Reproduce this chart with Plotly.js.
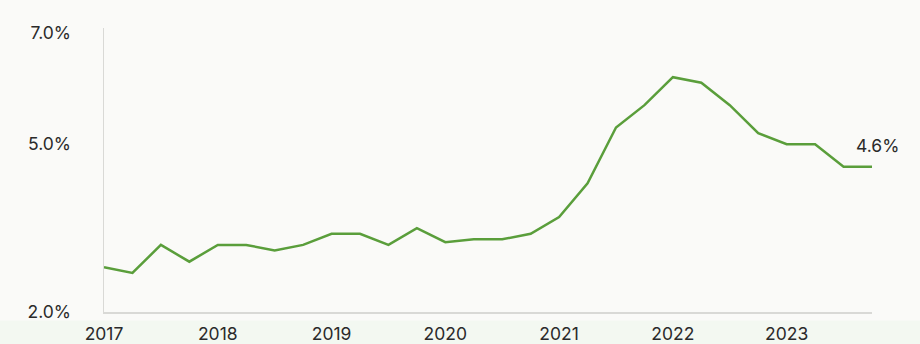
<!DOCTYPE html>
<html>
<head>
<meta charset="utf-8">
<script src="https://cdn.plot.ly/plotly-3.0.1.min.js"></script>
<style>
  html, body { margin: 0; padding: 0; background: #fafaf8; }
  #chart { width: 920px; height: 344px; }
</style>
</head>
<body>
<div id="chart"></div>
<script>
// Quarterly categories 2017 Q1 .. 2023 Q4
const years = ["2017", "2018", "2019", "2020", "2021", "2022", "2023"];
const quarters = ["Q1", "Q2", "Q3", "Q4"];
const categories = [];
years.forEach(y => quarters.forEach(q => categories.push(y + " " + q)));

// Rate values (%)
const values = [
  2.8, 2.7, 3.2, 2.9,
  3.2, 3.2, 3.1, 3.2,
  3.4, 3.4, 3.2, 3.5,
  3.25, 3.3, 3.3, 3.4,
  3.7, 4.3, 5.3, 5.7,
  6.2, 6.1, 5.7, 5.2,
  5.0, 5.0, 4.6, 4.6
];

const yTickVals = [2, 5, 7];
const yTickText = ["2.0%", "5.0%", "7.0%"];
const xTickVals = years.map(y => y + " Q1");
const xTickText = years;

const lastIdx = values.length - 1;

const trace = {
  x: categories,
  y: values,
  type: "scatter",
  mode: "lines",
  line: { color: "#5a9e3b", width: 2.5 },
  hoverinfo: "skip"
};

const tickFont = { family: "Inter, 'Open Sans', sans-serif", size: 17.5, color: "#2a2a2a" };

const layout = {
  width: 920,
  height: 344,
  margin: { l: 104, r: 48, t: 28, b: 32 },
  paper_bgcolor: "#fafaf8",
  plot_bgcolor: "#fafaf8",
  showlegend: false,
  font: tickFont,
  xaxis: {
    type: "category",
    range: [0, lastIdx],
    tickvals: xTickVals,
    ticktext: xTickText,
    showgrid: false,
    zeroline: false,
    showline: true,
    linecolor: "#d9d9d6",
    linewidth: 1.5,
    ticks: "outside",
    ticklen: 5,
    tickcolor: "rgba(0,0,0,0)",
    tickfont: tickFont
  },
  yaxis: {
    range: [2, 7.08],
    tickvals: yTickVals,
    ticktext: yTickText,
    showgrid: false,
    zeroline: false,
    showline: true,
    linecolor: "#d9d9d6",
    linewidth: 1.5,
    ticks: "outside",
    ticklen: 28,
    tickcolor: "rgba(0,0,0,0)",
    tickfont: tickFont
  },
  shapes: [{
    type: "rect", xref: "paper", yref: "paper",
    x0: -0.2, x1: 1.1, y0: -0.2, y1: -0.03,
    fillcolor: "#f3f8f1", line: { width: 0 }, layer: "below"
  }],
  annotations: [{
    x: categories[lastIdx],
    y: values[lastIdx],
    xref: "x", yref: "y",
    text: values[lastIdx].toFixed(1) + "%",
    showarrow: false,
    xshift: 5,
    yshift: 21,
    font: tickFont
  }]
};

Plotly.newPlot("chart", [trace], layout, { displayModeBar: false, staticPlot: true });
</script>
</body>
</html>
